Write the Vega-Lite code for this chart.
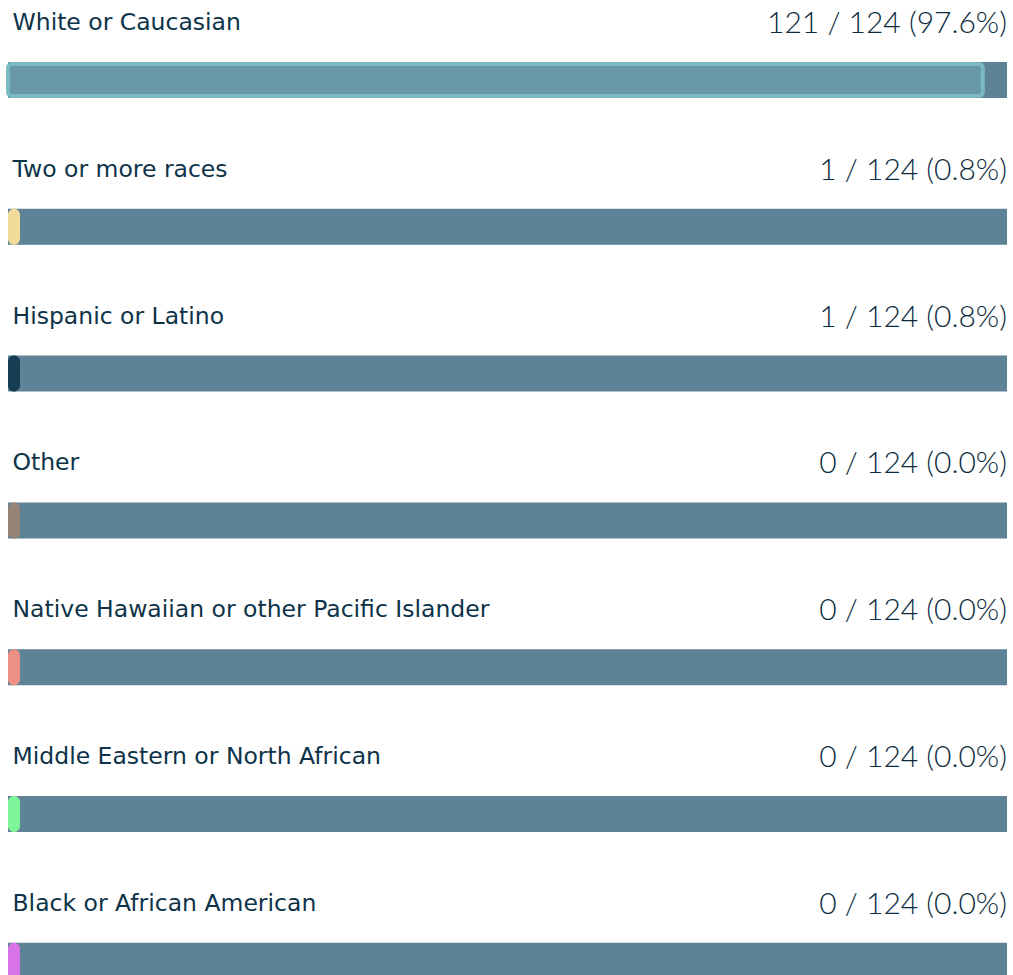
{
  "$schema": "https://vega.github.io/schema/vega-lite/v6.json",
  "width": 1013,
  "height": 975,
  "autosize": {"type": "none"},
  "padding": 0,
  "background": "#ffffff",
  "config": {"view": {"stroke": null}},
  "data": {
    "values": [
      {"cat": "White or Caucasian", "count": 121, "total": 124, "value": "121 / 124 (97.6%)"},
      {"cat": "Two or more races", "count": 1, "total": 124, "value": "1 / 124 (0.8%)"},
      {"cat": "Hispanic or Latino", "count": 1, "total": 124, "value": "1 / 124 (0.8%)"},
      {"cat": "Other", "count": 0, "total": 124, "value": "0 / 124 (0.0%)"},
      {"cat": "Native Hawaiian or other Pacific Islander", "count": 0, "total": 124, "value": "0 / 124 (0.0%)"},
      {"cat": "Middle Eastern or North African", "count": 0, "total": 124, "value": "0 / 124 (0.0%)"},
      {"cat": "Black or African American", "count": 0, "total": 124, "value": "0 / 124 (0.0%)"}
    ]
  },
  "layer": [
    {
      "mark": {"type": "bar", "color": "#5e8296"},
      "encoding": {
        "y": {
          "field": "cat", "type": "nominal", "sort": null,
          "scale": {"type": "band", "range": [62, 978.8], "paddingInner": 0.7548, "paddingOuter": 0},
          "axis": {
            "orient": "left", "title": null, "ticks": false, "domain": false, "grid": false,
            "labelAlign": "left", "labelBaseline": "middle", "labelPadding": -12, "labelOffset": -57,
            "labelFont": "DejaVu Sans", "labelFontSize": 23.5, "labelColor": "#0d3349", "labelLimit": 0
          }
        },
        "x": {"field": "total", "type": "quantitative", "axis": null, "scale": {"domain": [0, 124], "range": [8, 1007], "nice": false, "zero": true}}
      }
    },
    {
      "transform": [{"filter": "datum.count >= 2"}],
      "mark": {"type": "bar", "fill": "#6897a6", "stroke": "#7bbac1", "strokeWidth": 4, "cornerRadius": 4, "height": 32},
      "encoding": {
        "y": {"field": "cat", "type": "nominal", "sort": null},
        "x": {"field": "count", "type": "quantitative"}
      }
    },
    {
      "transform": [{"filter": "datum.count < 2"}],
      "mark": {"type": "rect", "cornerRadius": 6},
      "encoding": {
        "y": {"field": "cat", "type": "nominal", "sort": null},
        "x": {"datum": 0, "type": "quantitative"},
        "x2": {"datum": 1.49},
        "color": {
          "field": "cat", "type": "nominal", "legend": null,
          "scale": {
            "domain": ["Two or more races", "Hispanic or Latino", "Other", "Native Hawaiian or other Pacific Islander", "Middle Eastern or North African", "Black or African American"],
            "range": ["#f2dc9b", "#173d55", "#968577", "#ee8f84", "#7ef59a", "#d872e8"]
          }
        }
      }
    },
    {
      "mark": {"type": "text", "align": "right", "baseline": "middle", "dy": -38, "font": "Lato", "fontWeight": 300, "fontSize": 30, "color": "#0b2c40"},
      "encoding": {
        "y": {"field": "cat", "type": "nominal", "sort": null, "bandPosition": 0},
        "x": {"field": "total", "type": "quantitative"},
        "text": {"field": "value"}
      }
    }
  ]
}
